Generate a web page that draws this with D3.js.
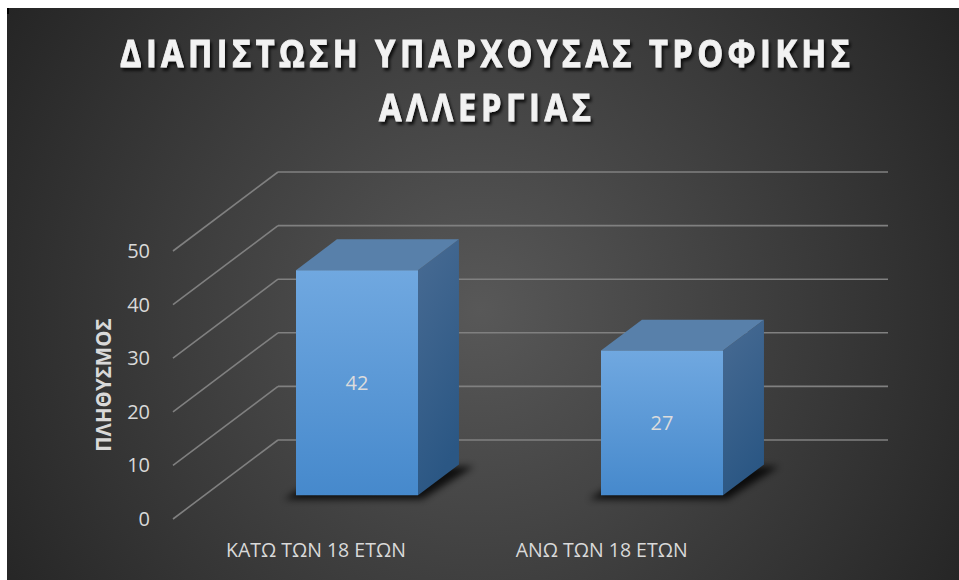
<!DOCTYPE html>
<html>
<head>
<meta charset="utf-8">
<script src="https://cdn.jsdelivr.net/npm/d3@7"></script>
<style>
    body { margin: 0; background: #ffffff; }
    svg { display: block; font-family: 'Open Sans', 'Noto Sans', sans-serif; }
</style>
</head>
<body>
<svg id="chart" width="959" height="580"></svg>
<script>

// Data
const categories = ['ΚΑΤΩ ΤΩΝ 18 ΕΤΩΝ', 'ΑΝΩ ΤΩΝ 18 ΕΤΩΝ'];
const values = [42, 27];
const yTicks = [0, 10, 20, 30, 40, 50];
const titleLines = ['ΔΙΑΠΙΣΤΩΣΗ ΥΠΑΡΧΟΥΣΑΣ ΤΡΟΦΙΚΗΣ', 'ΑΛΛΕΡΓΙΑΣ'];
const yTitle = 'ΠΛΗΘΥΣΜΟΣ';

class Bar3DChart {

    constructor() {
        this.svg = d3.select('#chart');
        // front plane of the 3d box
        this.front = { left: 173, right: 783, bottom: 519, top: 251 };
        // full depth of the box (oblique offset)
        this.depth = { dx: 105, dy: -79 };
        this.barDepth = [0.3, 0.69];

        this.xScale = d3.scaleBand()
            .domain(categories)
            .range([this.front.left, this.front.right])
            .padding(0);

        this.yScale = d3.scaleLinear()
            .domain([0, 50])
            .range([this.front.bottom, this.front.top]);
    }

    // project a front-plane point back to depth fraction d
    project(x, y, d) {
        return [x + d * this.depth.dx, y + d * this.depth.dy];
    }

    drawBackground() {
        const defs = this.svg.append('defs');

        const bg = defs.append('radialGradient')
            .attr('id', 'bg-grad')
            .attr('gradientUnits', 'userSpaceOnUse')
            .attr('cx', 480).attr('cy', 310).attr('r', 560);
        bg.append('stop').attr('offset', '0%').attr('stop-color', '#585858');
        bg.append('stop').attr('offset', '100%').attr('stop-color', '#252525');

        const frontGrad = defs.append('linearGradient')
            .attr('id', 'front-grad').attr('x1', 0).attr('y1', 0).attr('x2', 0).attr('y2', 1);
        frontGrad.append('stop').attr('offset', '0%').attr('stop-color', '#70a8e0');
        frontGrad.append('stop').attr('offset', '100%').attr('stop-color', '#4689cc');

        const sideGrad = defs.append('linearGradient')
            .attr('id', 'side-grad').attr('x1', 0).attr('y1', 0).attr('x2', 0.3).attr('y2', 1);
        sideGrad.append('stop').attr('offset', '0%').attr('stop-color', '#486b93');
        sideGrad.append('stop').attr('offset', '100%').attr('stop-color', '#2b5784');

        defs.append('filter').attr('id', 'blur')
            .attr('x', '-20%').attr('y', '-50%').attr('width', '140%').attr('height', '200%')
            .append('feGaussianBlur').attr('stdDeviation', 3.5);

        defs.append('filter').attr('id', 'title-shadow')
            .append('feDropShadow')
            .attr('dx', 2).attr('dy', 3).attr('stdDeviation', 1.8)
            .attr('flood-color', '#000').attr('flood-opacity', 0.8);

        this.svg.append('rect')
            .attr('x', 7).attr('y', 8)
            .attr('width', 952).attr('height', 572)
            .attr('fill', 'url(#bg-grad)');

        this.svg.append('rect')
            .attr('x', 7).attr('y', 8).attr('width', 2).attr('height', 6)
            .attr('fill', '#000');
    }

    drawTitle() {
        // narrow the glyphs a bit, the original face is condensed
        const squeeze = 0.88;
        const cx = 485;
        const widths = [730, 212];
        const title = this.svg.append('g')
            .attr('filter', 'url(#title-shadow)')
            .append('g')
            .attr('transform', `translate(${cx},0) scale(${squeeze},1)`);
        title.selectAll('text')
            .data(titleLines)
            .join('text')
            .attr('x', 0)
            .attr('y', (d, i) => 67 + i * 54)
            .attr('text-anchor', 'middle')
            .attr('textLength', (d, i) => widths[i] / squeeze)
            .attr('lengthAdjust', 'spacing')
            .attr('fill', '#f2f2f2')
            .attr('stroke', '#f2f2f2')
            .attr('stroke-width', 0.9)
            .attr('font-size', 37)
            .attr('font-weight', 700)
            .text(d => d);
    }

    drawGrid() {
        const grid = this.svg.append('g')
            .attr('stroke', '#808080')
            .attr('stroke-width', 1.6)
            .attr('fill', 'none');

        // left wall diagonals
        grid.selectAll('.wall-line')
            .data(yTicks)
            .join('line')
            .attr('class', 'wall-line')
            .attr('x1', this.front.left)
            .attr('y1', d => this.yScale(d))
            .attr('x2', this.front.left + this.depth.dx)
            .attr('y2', d => this.yScale(d) + this.depth.dy);

        // back wall horizontals
        grid.selectAll('.back-line')
            .data(yTicks)
            .join('line')
            .attr('class', 'back-line')
            .attr('x1', this.front.left + this.depth.dx)
            .attr('y1', d => this.yScale(d) + this.depth.dy)
            .attr('x2', this.front.right + this.depth.dx)
            .attr('y2', d => this.yScale(d) + this.depth.dy);
    }

    drawAxes() {
        this.svg.append('g')
            .selectAll('text')
            .data(yTicks)
            .join('text')
            .attr('x', this.front.left - 23)
            .attr('y', d => this.yScale(d))
            .attr('dy', '0.35em')
            .attr('text-anchor', 'end')
            .attr('fill', '#d9d9d9')
            .attr('font-size', 20)
            .text(d => d);

        this.svg.append('text')
            .attr('transform', `translate(104, ${(this.front.top + this.front.bottom) / 2}) rotate(-90)`)
            .attr('dy', '0.35em')
            .attr('text-anchor', 'middle')
            .attr('fill', '#d9d9d9')
            .attr('font-size', 20.5)
            .attr('font-weight', 700)
            .text(yTitle);

        // category labels, pulled in a little for perspective
        this.svg.append('g')
            .selectAll('text')
            .data(categories)
            .join('text')
            .attr('x', d => this.front.left + (this.xScale(d) + this.xScale.bandwidth() / 2 - this.front.left) * 0.937)
            .attr('y', 550)
            .attr('dy', '0.35em')
            .attr('text-anchor', 'middle')
            .attr('fill', '#d9d9d9')
            .attr('font-size', 19.5)
            .text(d => d);
    }

    drawBars() {
        const bw = this.xScale.bandwidth();
        const [d0, d1] = this.barDepth;
        const bars = categories.map((c, i) => {
            const xa = this.xScale(c) + bw * 0.3;
            const xb = xa + bw * 0.4;
            const yt = this.yScale(values[i]);
            const yb = this.yScale(0);
            return { c, v: values[i], xa, xb, yt, yb };
        });
        const poly = pts => pts.map(p => p.join(',')).join(' ');

        const g = this.svg.append('g');

        // soft floor shadow
        g.selectAll('.shadow')
            .data(bars)
            .join('polygon')
            .attr('class', 'shadow')
            .attr('points', b => poly([
                this.project(b.xa - 12, b.yb + 4, d0),
                this.project(b.xb + 4, b.yb + 4, d0),
                this.project(b.xb + 15, b.yb + 2, d1),
                this.project(b.xa, b.yb + 2, d1)
            ]))
            .attr('fill', '#000')
            .attr('opacity', 0.8)
            .attr('filter', 'url(#blur)');

        g.selectAll('.side')
            .data(bars)
            .join('polygon')
            .attr('class', 'side')
            .attr('points', b => poly([
                this.project(b.xb, b.yt, d0),
                this.project(b.xb, b.yt, d1),
                this.project(b.xb, b.yb, d1),
                this.project(b.xb, b.yb, d0)
            ]))
            .attr('fill', 'url(#side-grad)');

        g.selectAll('.top')
            .data(bars)
            .join('polygon')
            .attr('class', 'top')
            .attr('points', b => poly([
                this.project(b.xa, b.yt, d0),
                this.project(b.xb, b.yt, d0),
                this.project(b.xb, b.yt, d1),
                this.project(b.xa, b.yt, d1)
            ]))
            .attr('fill', '#5880aa');

        g.selectAll('.front')
            .data(bars)
            .join('polygon')
            .attr('class', 'front')
            .attr('points', b => poly([
                this.project(b.xa, b.yt, d0),
                this.project(b.xb, b.yt, d0),
                this.project(b.xb, b.yb, d0),
                this.project(b.xa, b.yb, d0)
            ]))
            .attr('fill', 'url(#front-grad)');

        g.selectAll('.value')
            .data(bars)
            .join('text')
            .attr('class', 'value')
            .attr('x', b => this.project((b.xa + b.xb) / 2, 0, d0)[0])
            .attr('y', b => this.project(0, (b.yt + b.yb) / 2, d0)[1])
            .attr('dy', '0.35em')
            .attr('text-anchor', 'middle')
            .attr('fill', '#dcdcdc')
            .attr('font-size', 20)
            .text(b => b.v);
    }

    draw() {
        this.drawBackground();
        this.drawTitle();
        this.drawGrid();
        this.drawAxes();
        this.drawBars();
    }
}

new Bar3DChart().draw();
</script>
</body>
</html>
